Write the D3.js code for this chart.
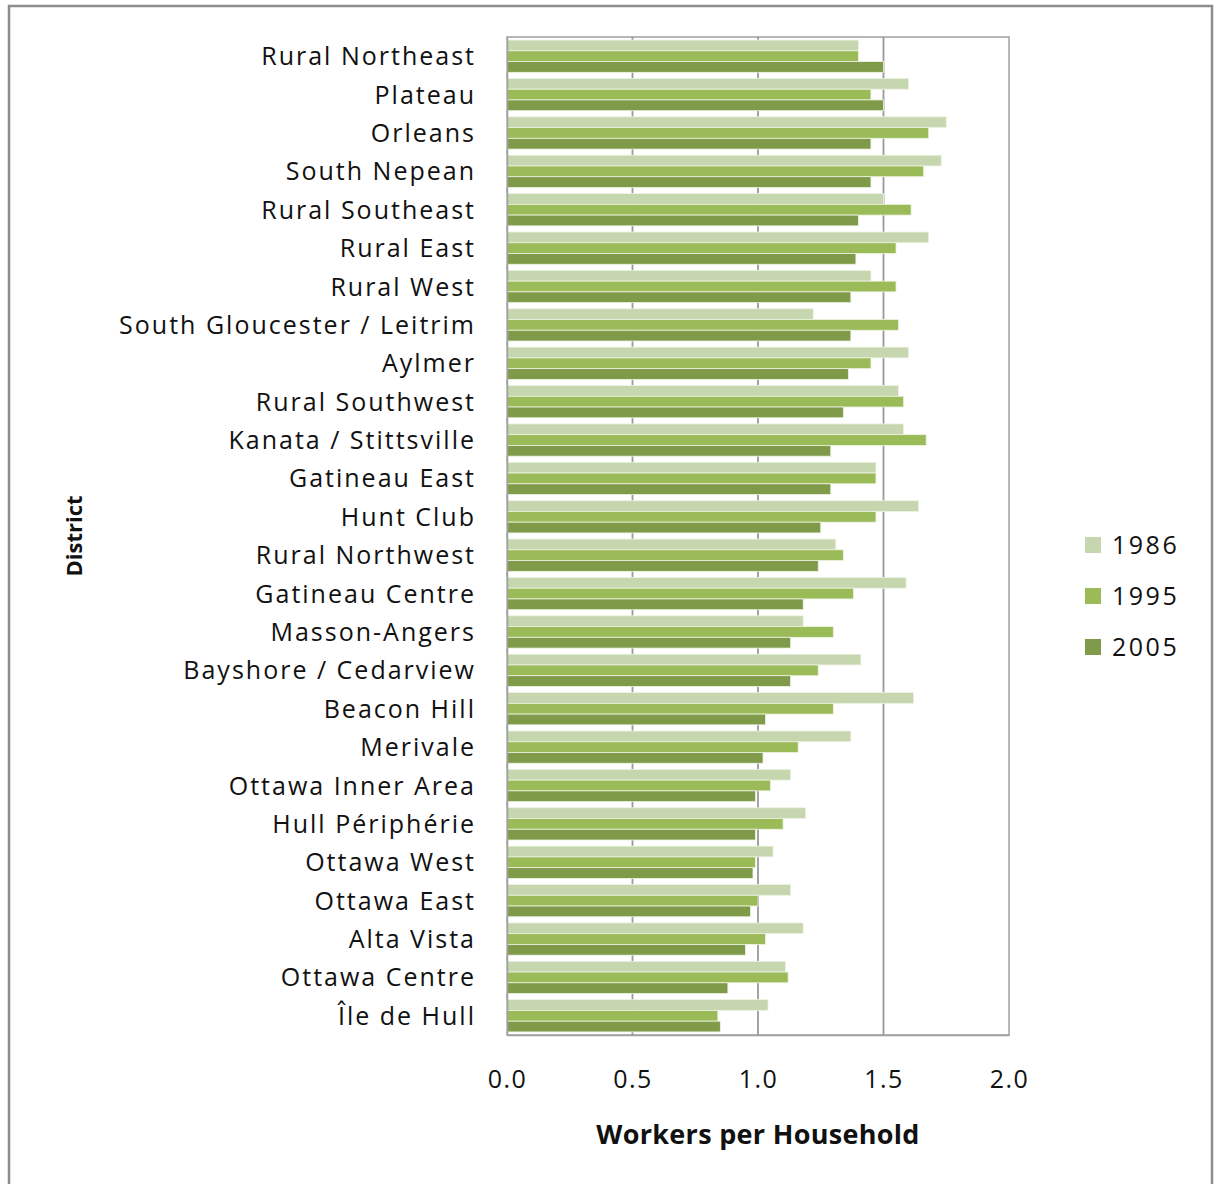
<!DOCTYPE html>
<html>
<head>
<meta charset="utf-8">
<script src="https://cdn.jsdelivr.net/npm/d3@7"></script>
<style>
  html, body { margin: 0; padding: 0; background: #fff; }
  svg { display: block; }
</style>
</head>
<body>
<svg id="chart" width="1216" height="1184"></svg>
<script>
// District names, top to bottom
const districts = [
  "Rural Northeast", "Plateau", "Orleans", "South Nepean", "Rural Southeast",
  "Rural East", "Rural West", "South Gloucester / Leitrim", "Aylmer",
  "Rural Southwest", "Kanata / Stittsville", "Gatineau East", "Hunt Club",
  "Rural Northwest", "Gatineau Centre", "Masson-Angers", "Bayshore / Cedarview",
  "Beacon Hill", "Merivale", "Ottawa Inner  Area", "Hull Périphérie",
  "Ottawa West", "Ottawa East", "Alta Vista", "Ottawa Centre", "Île de Hull"
];

const years = ["1986", "1995", "2005"];

// Workers per household by district
const values1986 = [1.40, 1.60, 1.75, 1.73, 1.50, 1.68, 1.45, 1.22, 1.60, 1.56, 1.58, 1.47, 1.64,
                    1.31, 1.59, 1.18, 1.41, 1.62, 1.37, 1.13, 1.19, 1.06, 1.13, 1.18, 1.11, 1.04];
const values1995 = [1.40, 1.45, 1.68, 1.66, 1.61, 1.55, 1.55, 1.56, 1.45, 1.58, 1.67, 1.47, 1.47,
                    1.34, 1.38, 1.30, 1.24, 1.30, 1.16, 1.05, 1.10, 0.99, 1.00, 1.03, 1.12, 0.84];
const values2005 = [1.50, 1.50, 1.45, 1.45, 1.40, 1.39, 1.37, 1.37, 1.36, 1.34, 1.29, 1.29, 1.25,
                    1.24, 1.18, 1.13, 1.13, 1.03, 1.02, 0.99, 0.99, 0.98, 0.97, 0.95, 0.88, 0.85];

const xTicks = [0, 0.5, 1.0, 1.5, 2.0];
const colors = ["#c6d6ae", "#9bbb59", "#7f9a48"];

const series = [values1986, values1995, values2005];
const rows = districts.map((d, i) => ({ district: d, vals: years.map((y, k) => ({ year: y, v: series[k][i] })) }));

const svg = d3.select("#chart");
const textFont = "'Open Sans', 'DejaVu Sans', sans-serif";

// outer chart frame
svg.append("rect")
  .attr("x", 9).attr("y", 6).attr("width", 1203).attr("height", 1200)
  .attr("fill", "#fff").attr("stroke", "#8c8c8c").attr("stroke-width", 2.5);

const plot = { left: 507, right: 1009, top: 37, bottom: 1035 };

const x = d3.scaleLinear().domain([0, 2]).range([plot.left, plot.right]);
const y = d3.scaleBand().domain(districts).range([plot.top, plot.bottom]).paddingInner(0.16).paddingOuter(0.08);
const yInner = d3.scaleBand().domain(years).range([0, y.bandwidth()]);
const color = d3.scaleOrdinal().domain(years).range(colors);

// plot border
svg.append("rect")
  .attr("x", plot.left).attr("y", plot.top)
  .attr("width", plot.right - plot.left).attr("height", plot.bottom - plot.top)
  .attr("fill", "none").attr("stroke", "#a0a0a0").attr("stroke-width", 1.5);

// vertical gridlines
svg.append("g")
  .selectAll("line")
  .data(xTicks.slice(1, -1))
  .join("line")
  .attr("x1", d => x(d)).attr("x2", d => x(d))
  .attr("y1", plot.top).attr("y2", plot.bottom)
  .attr("stroke", "#9a9a9a").attr("stroke-width", 1.8);

// bars
const groups = svg.append("g")
  .selectAll("g")
  .data(rows)
  .join("g")
  .attr("transform", d => `translate(0,${y(d.district)})`);

groups.selectAll("rect")
  .data(d => d.vals)
  .join("rect")
  .attr("x", x(0))
  .attr("y", d => yInner(d.year))
  .attr("width", d => x(d.v) - x(0))
  .attr("height", yInner.bandwidth())
  .attr("fill", d => color(d.year))
  .attr("stroke", "#eef3e4")
  .attr("stroke-width", 0.8);

// axes
const xAxis = svg.append("g")
  .attr("transform", `translate(0,${plot.bottom})`)
  .call(d3.axisBottom(x).tickValues(xTicks).tickFormat(d3.format(".1f")).tickSize(0).tickPadding(35));
xAxis.select(".domain").attr("stroke", "#a0a0a0").attr("stroke-width", 1.5);
xAxis.selectAll("text")
  .attr("font-family", textFont).attr("font-size", 25).attr("letter-spacing", "1.5px")
  .attr("fill", "#111");

const yAxis = svg.append("g")
  .attr("transform", `translate(${plot.left},0)`)
  .call(d3.axisLeft(y).tickSize(0).tickPadding(31));
yAxis.select(".domain").attr("stroke", "#a0a0a0").attr("stroke-width", 1.5);
yAxis.selectAll("text")
  .attr("font-family", textFont).attr("font-size", 25).attr("letter-spacing", "2px")
  .attr("dy", "0.36em").attr("fill", "#111");

// axis titles
svg.append("text")
  .attr("x", 758).attr("y", 1144)
  .attr("text-anchor", "middle")
  .attr("font-family", textFont).attr("font-weight", "bold").attr("font-size", 27)
  .attr("letter-spacing", "0.3px")
  .attr("fill", "#111")
  .text("Workers per Household");

svg.append("text")
  .attr("transform", "translate(82,536) rotate(-90)")
  .attr("text-anchor", "middle")
  .attr("font-family", textFont).attr("font-weight", "bold").attr("font-size", 22)
  .attr("fill", "#111")
  .text("District");

// legend
const legend = svg.append("g")
  .selectAll("g")
  .data(years)
  .join("g")
  .attr("transform", (d, i) => `translate(1085,${545 + i * 51})`);
legend.append("rect")
  .attr("x", 0).attr("y", -8).attr("width", 16).attr("height", 16)
  .attr("fill", d => color(d));
legend.append("text")
  .attr("x", 27).attr("y", 0).attr("dy", "0.36em")
  .attr("font-family", textFont).attr("font-size", 25).attr("letter-spacing", "2.5px")
  .attr("fill", "#111")
  .text(d => d);
</script>
</body>
</html>
